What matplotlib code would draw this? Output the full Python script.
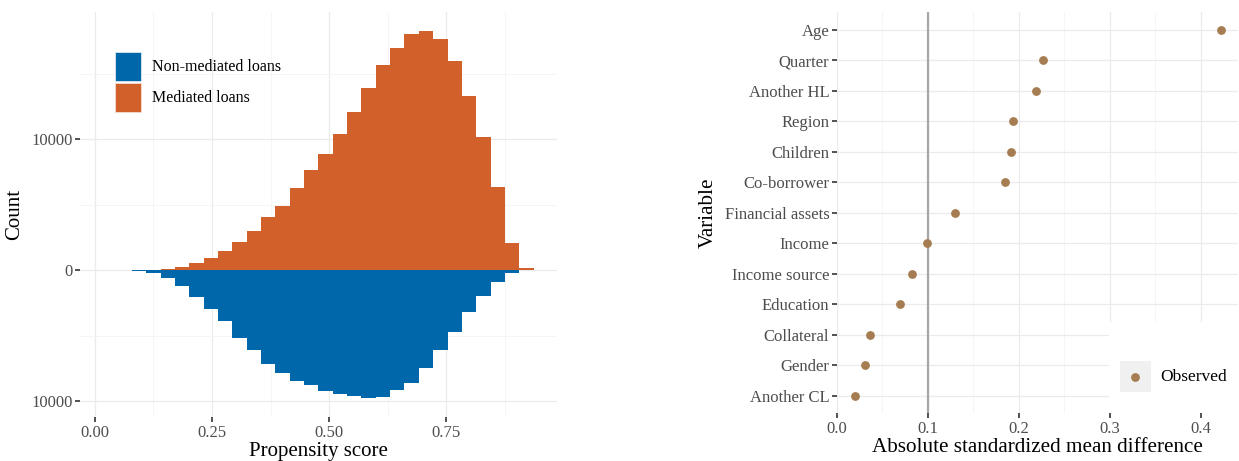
import numpy as np
import matplotlib
matplotlib.use("Agg")
from matplotlib import pyplot as plt
from matplotlib.patches import Patch, Rectangle

plt.rcParams['font.family'] = ['Liberation Serif', 'DejaVu Serif']

# histogram of propensity scores (28 bins)
bin_start = 0.079
bin_end = 0.937
mediated = [0, 30, 100, 250, 500, 910, 1420, 2130, 2990, 4030, 4890, 6300, 7620, 8860,
            10380, 12050, 13920, 15620, 16940, 18050, 18250, 17620, 15970, 13320, 10180,
            6330, 2080, 130]
non_mediated = [70, 200, 610, 1240, 2080, 2960, 3920, 5220, 6080, 7160, 7850, 8460, 8780,
                9270, 9490, 9650, 9770, 9700, 9140, 8630, 7490, 6130, 4760, 3190, 2000,
                940, 250, 0]

# balance plot
variables = ["Age", "Quarter", "Another HL", "Region", "Children", "Co-borrower",
             "Financial assets", "Income", "Income source", "Education", "Collateral",
             "Gender", "Another CL"]
smd = [0.422, 0.227, 0.219, 0.194, 0.191, 0.185, 0.130, 0.099, 0.083, 0.069, 0.036,
       0.031, 0.020]

blue = "#0067ab"
orange = "#d1602a"
brown = "#a67c52"
grid_major = "#ebebeb"
grid_minor = "#f4f4f4"
tick_col = "#4d4d4d"

W, H = 1239, 461
fig = plt.figure(figsize=(W / 100, H / 100), dpi=100)


def px_axes(x0, y0, x1, y1):
    return fig.add_axes([x0 / W, (H - y1) / H, (x1 - x0) / W, (y1 - y0) / H])


def style(ax):
    for s in ax.spines.values():
        s.set_visible(False)
    ax.set_axisbelow(True)
    ax.grid(True, which='major', color=grid_major, lw=0.9)
    ax.grid(True, which='minor', color=grid_minor, lw=0.6)
    ax.tick_params(which='major', length=3.5, width=1.2, color='#333333',
                   labelcolor=tick_col, labelsize=12, pad=2)
    ax.tick_params(which='minor', length=0)


# ---- left: mirrored histogram
ax1 = px_axes(80, 12, 557, 417)
style(ax1)
n_bins = len(mediated)
edges = np.linspace(bin_start, bin_end, n_bins + 1)
width = edges[1] - edges[0]
ax1.bar(edges[:-1], mediated, width=width, align='edge', color=orange, lw=0)
ax1.bar(edges[:-1], -np.array(non_mediated), width=width, align='edge', color=blue, lw=0)
ax1.set_xlim(-0.032, 0.987)
ax1.set_ylim(-11220, 19700)
ax1.set_xticks([0, 0.25, 0.5, 0.75])
ax1.set_xticklabels(["0.00", "0.25", "0.50", "0.75"])
ax1.set_xticks([0.125, 0.375, 0.625, 0.875], minor=True)
ax1.set_yticks([-10000, 0, 10000])
ax1.set_yticklabels(["10000", "0", "10000"])
ax1.set_yticks([-5000, 5000, 15000], minor=True)
ax1.set_xlabel("Propensity score", fontsize=15, labelpad=1)
ax1.set_ylabel("Count", fontsize=15, labelpad=5)
handles = [Patch(facecolor=blue, edgecolor='#dde8f0', lw=0.6, label="Non-mediated loans"),
           Patch(facecolor=orange, edgecolor='#f3ddd2', lw=0.6, label="Mediated loans")]
ax1.legend(handles=handles, loc='upper left', bbox_to_anchor=(0.073, 0.901),
           frameon=False, fontsize=11.5, handlelength=1.65, handleheight=2.4,
           labelspacing=0.12, handletextpad=0.7, borderpad=0, borderaxespad=0)

# ---- right: standardized mean differences
ax2 = px_axes(837, 12, 1238, 413)
style(ax2)
ypos = np.arange(len(variables))[::-1]
ax2.axvline(0.1, color='#a6a6a6', lw=1.6, zorder=2)
ax2.scatter(smd, ypos, s=40, color=brown, zorder=3, lw=0)
ax2.set_yticks(ypos)
ax2.set_yticklabels(variables)
ax2.set_ylim(-0.56, 12.59)
ax2.set_xlim(0, 0.441)
ax2.set_xticks([0, 0.1, 0.2, 0.3, 0.4])
ax2.set_xticklabels(["0.0", "0.1", "0.2", "0.3", "0.4"])
ax2.set_xticks([0.05, 0.15, 0.25, 0.35], minor=True)
ax2.set_xlabel("Absolute standardized mean difference", fontsize=15.2, labelpad=1)
ax2.set_ylabel("Variable", fontsize=15.2, labelpad=5)

# legend box
ax2.add_patch(Rectangle((0.678, 0.0), 0.33, 0.227, transform=ax2.transAxes,
                        facecolor='white', edgecolor='none', zorder=4, clip_on=False))
ax2.add_patch(Rectangle((0.706, 0.052), 0.077, 0.078, transform=ax2.transAxes,
                        facecolor='#f0f0f0', edgecolor='none', zorder=5))
ax2.scatter([0.744], [0.091], s=40, color=brown, transform=ax2.transAxes, zorder=6, lw=0)
ax2.text(0.805, 0.091, "Observed", transform=ax2.transAxes, fontsize=12.5,
         va='center', ha='left', zorder=6)

fig.savefig("out.png", dpi=100)
